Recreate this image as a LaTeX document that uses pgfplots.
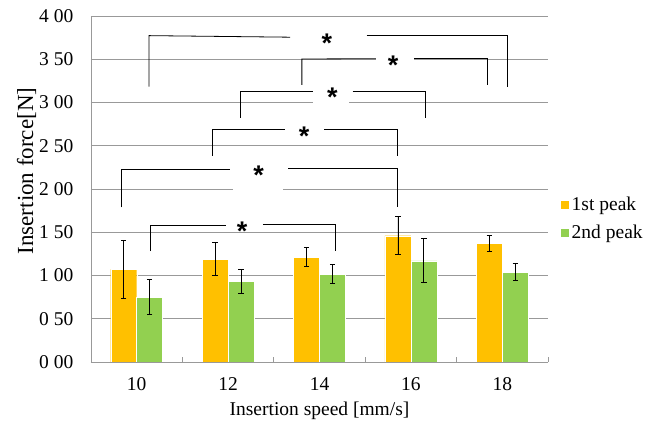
\documentclass[border=0pt]{standalone}
\usepackage{fontspec}
\setmainfont{Liberation Serif}
\newfontfamily\starfont{Liberation Sans Bold}
\usepackage{pgfplots}
\pgfplotsset{compat=1.18}
\definecolor{orng}{HTML}{FFC000}
\definecolor{grn}{HTML}{92D050}
\definecolor{gridc}{HTML}{999999}
\begin{document}
\begin{tikzpicture}
\begin{axis}[
  scale only axis, width=457bp, height=346bp,
  xmin=-0.5, xmax=4.5, ymin=0, ymax=4,
  axis x line*=bottom, axis y line*=left,
  font=\fontsize{19.5bp}{22bp}\selectfont,
  xtick={0,1,2,3,4}, xticklabels={10,12,14,16,18},
  minor xtick={-0.5,0.5,1.5,2.5,3.5,4.5},
  ytick={0,0.5,1,1.5,2,2.5,3,3.5,4},
  yticklabels={0 00,0 50,1 00,1 50,2 00,2 50,3 00,3 50,4 00},
  ymajorgrids, major grid style={gridc, line width=0.9bp},
  axis line style={gridc, line width=0.9bp},
  tick style={gridc, line width=0.9bp},
  major tick length=0pt, minor tick length=5bp, tick align=inside,
  xticklabel style={anchor=center, yshift=-22.5bp},
  yticklabel style={anchor=east, inner sep=0pt, xshift=-17.5bp},
  xlabel={Insertion speed [mm/s]},
  ylabel={\fontsize{23bp}{25bp}\selectfont Insertion force[N]},
  xlabel style={at={(axis description cs:0.5,-0.142)}, anchor=center},
  ylabel style={at={(axis description cs:-0.141,0.552)}, anchor=center},
  legend style={at={(1.02,0.415)}, anchor=west, draw=none, fill=none,
    font=\fontsize{19.5bp}{22bp}\selectfont, row sep=9bp},
  legend cell align=left,
  legend image code/.code={\fill[#1] (0bp,-4.5bp) rectangle (9bp,4.5bp);},
  error bars/error mark options={rotate=90, mark size=2.7bp, line width=0.8bp, black},
  error bars/error bar style={line width=0.8bp, black},
  bracket/.style={black, line width=0.8bp, no marks, forget plot},
]
\coordinate (bl) at (rel axis cs:0,0);
\coordinate (tr) at (rel axis cs:1,1);
\addplot[ybar, bar width=26bp, bar shift=0pt, fill=orng, draw=white, line width=0.4bp,
  error bars/.cd, y dir=both, y explicit]
  coordinates {(-0.1422,1.07) +- (0,0.33) (0.8578,1.19) +- (0,0.19) (1.8578,1.21) +- (0,0.11) (2.8578,1.46) +- (0,0.22) (3.8578,1.37) +- (0,0.095)};
\addlegendentry{1st peak}
\addplot[ybar, bar width=26bp, bar shift=0pt, fill=grn, draw=white, line width=0.4bp,
  error bars/.cd, y dir=both, y explicit]
  coordinates {(0.1422,0.75) +- (0,0.20) (1.1422,0.93) +- (0,0.14) (2.1422,1.015) +- (0,0.11) (3.1422,1.17) +- (0,0.255) (4.1422,1.04) +- (0,0.097)};
\addlegendentry{2nd peak}
% white boxes behind stars
\fill[white] (axis cs:2.617,3.44) rectangle (axis cs:3.035,3.56);
\fill[white] (axis cs:1.93,2.95) rectangle (axis cs:2.32,3.05);
\fill[white] (axis cs:1.058,1.95) rectangle (axis cs:1.603,2.05);
% brackets
\addplot[bracket] coordinates {(0.134,3.183) (0.134,3.773) (1.679,3.755)};
\addplot[bracket] coordinates {(2.516,3.773) (4.06,3.773) (4.06,3.183)};
\addplot[bracket] coordinates {(1.807,3.203) (1.807,3.503) (2.617,3.506)};
\addplot[bracket] coordinates {(3.035,3.506) (3.835,3.506) (3.835,3.203)};
\addplot[bracket] coordinates {(1.134,2.824) (1.134,3.133) (1.933,3.133)};
\addplot[bracket] coordinates {(2.363,3.133) (3.159,3.133) (3.159,2.824)};
\addplot[bracket] coordinates {(0.826,2.384) (0.826,2.69) (1.625,2.69)};
\addplot[bracket] coordinates {(2.053,2.69) (2.85,2.69) (2.85,2.384)};
\addplot[bracket] coordinates {(-0.167,1.787) (-0.167,2.23) (1.025,2.23)};
\addplot[bracket] coordinates {(1.66,2.243) (2.85,2.243) (2.85,1.787)};
\addplot[bracket] coordinates {(0.145,1.281) (0.145,1.579) (0.981,1.579)};
\addplot[bracket] coordinates {(1.381,1.586) (2.178,1.586) (2.178,1.281)};
% stars
\tikzset{star/.style={font=\starfont\fontsize{27bp}{27bp}\selectfont, inner sep=0pt, anchor=center, yshift=-4bp}}
\node[star] at (axis cs:2.08,3.735) {*};
\node[star] at (axis cs:2.806,3.48) {*};
\node[star] at (axis cs:2.14,3.11) {*};
\node[star] at (axis cs:1.832,2.66) {*};
\node[star] at (axis cs:1.334,2.21) {*};
\node[star] at (axis cs:1.153,1.56) {*};
\end{axis}
\pgfresetboundingbox
\path[use as bounding box] ([shift={(-91bp,-63bp)}]bl) rectangle ([shift={(114bp,16bp)}]tr);
\end{tikzpicture}
\end{document}
